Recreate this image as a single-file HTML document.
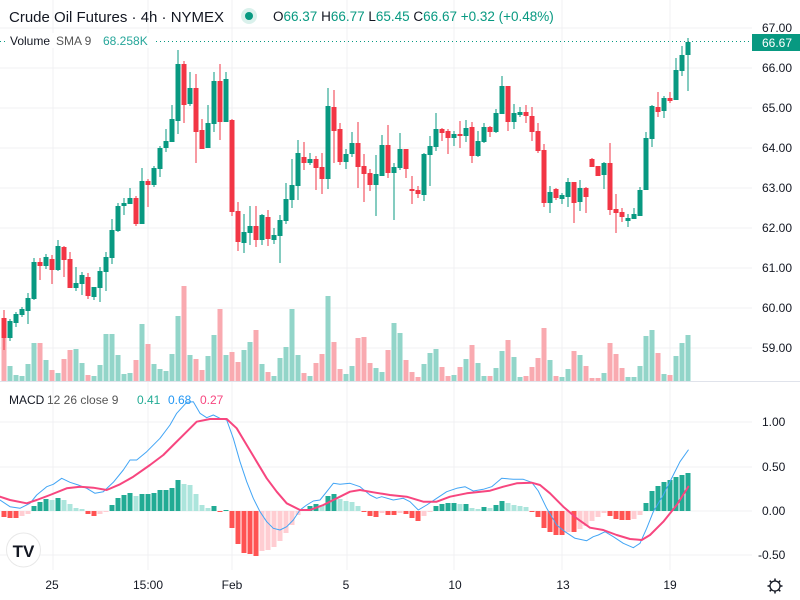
<!DOCTYPE html>
<html><head><meta charset="utf-8">
<style>
html,body{margin:0;padding:0;background:#fff;}
#c{position:relative;width:800px;height:600px;overflow:hidden;font-family:"Liberation Sans",sans-serif;}
svg{position:absolute;left:0;top:0;}
</style></head>
<body><div id="c">
<svg id="s" width="800" height="600" xmlns="http://www.w3.org/2000/svg"></svg>
</div>
<script>
var NS="http://www.w3.org/2000/svg",S=document.getElementById('s');
function el(t,a,txt){var e=document.createElementNS(NS,t);for(var k in a)e.setAttribute(k,a[k]);if(txt!=null)e.textContent=txt;S.appendChild(e);return e;}
[28,68,108,148,188,228,268,308,348].forEach(function(y){el('line',{x1:0,x2:752,y1:y,y2:y,stroke:'#f0f1f3','stroke-width':1});});
[422,467,511,555].forEach(function(y){el('line',{x1:0,x2:752,y1:y,y2:y,stroke:'#f0f1f3','stroke-width':1});});
[53,148,232,347,454,562,670].forEach(function(x){el('line',{x1:x,x2:x,y1:0,y2:570,stroke:'#f0f1f3','stroke-width':1});});
el('line',{x1:0,x2:800,y1:381.5,y2:381.5,stroke:'#e0e3eb','stroke-width':1});
var C=[[0,318,338,310,350],[1,321,338,319,341],[1,314,323,312,327],[1,309,315,307,317],[1,298,311,293,324],[1,262,299,258,300],[0,262,266,258,280],[1,257,266,254,269],[0,259,270,255,284],[1,246,270,240,271],[0,247,260,246,277],[0,259,288,252,288],[1,283,288,267,291],[1,275,284,272,295],[0,277,296,273,299],[1,287,297,287,300],[1,271,288,267,302],[1,257,272,252,291],[1,230,258,219,264],[1,206,231,203,232],[1,203,206,198,215],[1,198,204,188,204],[0,198,224,196,226],[1,181,224,168,224],[0,181,185,179,207],[1,168,185,166,187],[1,148,169,146,177],[1,141,148,129,152],[1,119,142,105,142],[1,64,121,50,134],[0,64,105,61,123],[1,88,104,72,106],[0,88,132,74,163],[0,130,149,119,149],[1,123,148,105,148],[1,81,124,72,132],[0,81,122,64,140],[1,79,122,72,122],[0,120,212,119,216],[0,211,242,202,251],[1,232,243,214,253],[1,226,233,206,245],[0,226,240,206,247],[1,215,240,214,245],[0,217,239,210,246],[1,235,240,228,244],[1,220,236,215,263],[1,199,221,183,224],[1,185,200,159,208],[1,153,186,140,200],[0,157,163,142,170],[1,159,163,153,165],[0,159,168,156,190],[0,167,179,153,194],[1,106,179,88,189],[0,107,131,90,163],[0,129,162,123,165],[1,154,162,149,169],[1,143,154,132,157],[0,143,167,122,188],[0,166,174,154,202],[0,173,185,169,191],[1,174,185,155,216],[1,145,176,135,176],[0,145,173,125,178],[1,167,173,163,220],[1,149,168,133,170],[0,149,169,149,178],[0,189,191,176,204],[0,190,194,186,198],[1,154,195,153,201],[1,146,155,136,186],[1,129,147,113,151],[0,129,133,128,141],[0,131,138,129,154],[1,134,138,131,146],[0,134,136,121,148],[1,128,136,120,142],[0,127,156,122,163],[1,141,156,131,157],[1,127,142,123,143],[0,127,132,126,137],[1,113,132,109,133],[1,86,114,76,114],[0,86,122,86,131],[1,113,122,104,129],[1,112,115,107,117],[0,112,116,105,123],[0,116,132,107,141],[0,131,151,123,153],[0,150,203,144,207],[1,192,203,186,213],[0,189,198,188,200],[1,195,199,193,204],[1,182,197,178,207],[0,182,203,182,223],[1,188,202,180,211],[0,188,197,187,213],[0,159,167,158,167],[0,166,176,166,176],[1,163,175,162,189],[0,163,210,143,215],[0,209,213,194,233],[0,212,217,208,222],[1,218,221,214,227],[1,214,219,208,219],[1,190,216,187,216],[1,138,190,132,190],[1,106,139,105,147],[0,107,112,92,117],[1,98,111,96,118],[0,98,101,92,103],[1,70,100,58,100],[1,55,71,46,76],[1,42,55,38,91]];
var V=[338,366,375,376,364,343,343,360,370,373,359,350,349,363,375,376,365,334,334,355,374,373,360,324,344,364,369,371,354,316,286,355,359,370,356,335,309,355,352,362,350,342,330,364,372,376,358,347,309,355,373,376,363,354,296,342,369,374,366,338,337,363,368,372,350,323,333,360,372,377,364,353,349,367,376,375,367,359,345,363,376,376,368,351,340,357,377,376,367,358,328,360,376,377,369,351,355,366,378,378,373,343,354,368,377,377,366,336,330,353,374,375,356,343,335];
var H=[-6,-7,-7,-5,-3,5,9,12,11,13,11,7,3,2,-3,-5,-3,-1,6,13,16,18,15,17,17,18,21,21,23,31,27,26,17,6,3,5,-1,1,-17,-33,-42,-43,-45,-40,-39,-36,-30,-22,-14,-4,2,5,7,6,15,17,12,10,9,5,-1,-5,-6,-2,-4,-4,-2,-3,-7,-10,-5,-1,5,7,8,8,7,7,3,2,4,3,6,10,8,6,5,4,-1,-6,-17,-21,-24,-24,-21,-21,-18,-15,-10,-6,-2,-5,-8,-9,-9,-8,-4,8,20,25,29,31,34,36,38];
for(var i=0;i<C.length;i++){
 var x=4+6*i,c=C[i],g=c[0];
 var vc=V[i];
 el('rect',{x:x-2.5,y:vc,width:5,height:381-vc,fill:g?'#92d5c9':'#f9aab0'});
}
for(var i=0;i<C.length;i++){
 var x=4+6*i,c=C[i],col=c[0]?'#089981':'#f23645';
 el('rect',{x:x-0.5,y:c[3],width:1,height:c[4]-c[3],fill:col});
 el('rect',{x:x-2.5,y:c[1],width:5,height:Math.max(1,c[2]-c[1]),fill:col});
}
for(var i=0;i<H.length;i++){
 var x=4+6*i,h=H[i],p=i>0?H[i-1]:0,col;
 if(h>=0)col=(h>=p)?'#22ab94':'#ace5dc';else col=(h<=p)?'#ff5252':'#ffcdd2';
 if(h>=0)el('rect',{x:x-2.5,y:511-h,width:5,height:Math.max(h,1),fill:col});
 else el('rect',{x:x-2.5,y:511,width:5,height:-h,fill:col});
}
function pl(a,b,col,w){var pts=[];a.forEach(function(p){pts.push((p[0]/3).toFixed(1)+','+(p[1]/3+395).toFixed(1));});b.forEach(function(p){pts.push((p[0]/3+350).toFixed(1)+','+(p[1]/3+395).toFixed(1));});el('polyline',{points:pts.join(' '),fill:'none',stroke:col,'stroke-width':w,'stroke-linejoin':'round','stroke-linecap':'round'});}
var B1=[[0,315],[30,335],[60,340],[90,325],[110,300],[140,275],[160,268],[185,250],[210,262],[235,270],[260,280],[285,295],[310,290],[340,262],[370,225],[390,195],[410,195],[440,170],[480,130],[510,90],[530,55],[560,22],[580,20],[600,55],[620,68],[640,60],[660,70],[680,75],[700,130],[720,200],[740,260],[760,310],[780,350],[800,380],[820,400],[840,405],[860,395],[880,375],[900,345],[920,330],[940,318],[960,315],[980,290],[1000,265],[1020,268],[1050,265]];
var B2=[[30,275],[60,300],[80,310],[95,305],[130,315],[160,310],[180,320],[205,345],[230,330],[260,310],[290,290],[320,280],[345,275],[370,288],[400,283],[425,275],[455,250],[490,253],[520,253],[545,262],[565,288],[590,340],[620,390],[645,410],[675,430],[710,437],[730,425],[745,420],[765,410],[790,425],[820,445],[850,458],[870,445],[890,400],[910,350],[940,300],[970,240],[990,200],[1015,165]];
var P1=[[0,305],[30,315],[80,325],[110,315],[150,300],[200,280],[240,275],[280,278],[320,285],[360,268],[400,245],[450,210],[490,180],[520,150],[560,110],[590,80],[630,72],[680,72],[710,100],[740,150],[770,200],[800,250],[830,290],[860,325],[900,345],[930,345],[970,330],[1010,310],[1050,290]];
var P2=[[30,285],[70,292],[120,300],[170,305],[220,320],[260,320],[300,305],[350,295],[420,287],[460,275],[500,265],[545,263],[570,270],[600,295],[640,335],[680,370],[720,398],[760,405],[800,420],[840,432],[875,435],[900,420],[940,380],[980,330],[1015,275]];
pl(B1,B2,'#42a5f5',1);
pl(P1,P2,'#f7467f',2);
el('line',{x1:0,x2:752,y1:41.5,y2:41.5,stroke:'#089981','stroke-width':1,'stroke-dasharray':'1,3'});
var pr=['67.00','66.00','65.00','64.00','63.00','62.00','61.00','60.00','59.00'];
pr.forEach(function(t,k){el('text',{x:762,y:32+40*k,'font-size':12,fill:'#131722'},t);});
el('rect',{x:752,y:34,width:48,height:17,fill:'#089981'});
el('text',{x:762,y:47,'font-size':12,fill:'#fff'},'66.67');
[['1.00',426],['0.50',471],['0.00',515],['-0.50',559]].forEach(function(a){el('text',{x:a[0][0]=='-'?758:762,y:a[1],'font-size':12,fill:'#131722'},a[0]);});
[['25',52],['15:00',148],['Feb',232],['5',346],['10',455],['13',563],['19',670]].forEach(function(a){el('text',{x:a[1],y:589,'font-size':12,fill:'#131722','text-anchor':'middle'},a[0]);});
el('text',{x:9,y:22,'font-size':15,fill:'#131722'},'Crude Oil Futures · 4h · NYMEX');
el('circle',{cx:249,cy:16,r:8,fill:'#daf1ec'});
el('circle',{cx:249,cy:16,r:4,fill:'#089981'});
var t=el('text',{x:273,y:21,'font-size':13.5,fill:'#131722'});
[['O','#131722'],['66.37 ','#089981'],['H','#131722'],['66.77 ','#089981'],['L','#131722'],['65.45 ','#089981'],['C','#131722'],['66.67 +0.32 (+0.48%)','#089981']].forEach(function(a){var s=document.createElementNS(NS,'tspan');s.setAttribute('fill',a[1]);s.textContent=a[0];t.appendChild(s);});
el('rect',{x:8,y:33,width:148,height:15,fill:'#fff'});
el('text',{x:10,y:45,'font-size':12,fill:'#131722'},'Volume');
el('text',{x:56,y:45,'font-size':12,fill:'#555'},'SMA 9');
el('text',{x:103,y:45,'font-size':12,fill:'#26a69a'},'68.258K');
el('text',{x:9,y:404,'font-size':12,fill:'#131722'},'MACD');
el('text',{x:47,y:404,'font-size':12,fill:'#555'},'12 26 close 9');
el('text',{x:137,y:404,'font-size':12,fill:'#22ab94'},'0.41');
el('text',{x:168,y:404,'font-size':12,fill:'#2196f3'},'0.68');
el('text',{x:200,y:404,'font-size':12,fill:'#f7467f'},'0.27');
el('circle',{cx:23.5,cy:550,r:17,fill:'#fff',stroke:'#e8e8e8','stroke-width':1});
el('text',{x:23.5,y:557,'font-size':17,'font-weight':'bold',fill:'#131722','text-anchor':'middle'},'TV');
el('circle',{cx:775,cy:586,r:5,fill:'none',stroke:'#131722','stroke-width':1.3});
for(var k=0;k<8;k++){var a=k*Math.PI/4;el('line',{x1:775+5*Math.cos(a),y1:586+5*Math.sin(a),x2:775+7.5*Math.cos(a),y2:586+7.5*Math.sin(a),stroke:'#131722','stroke-width':1.5});}
</script>
</body></html>
